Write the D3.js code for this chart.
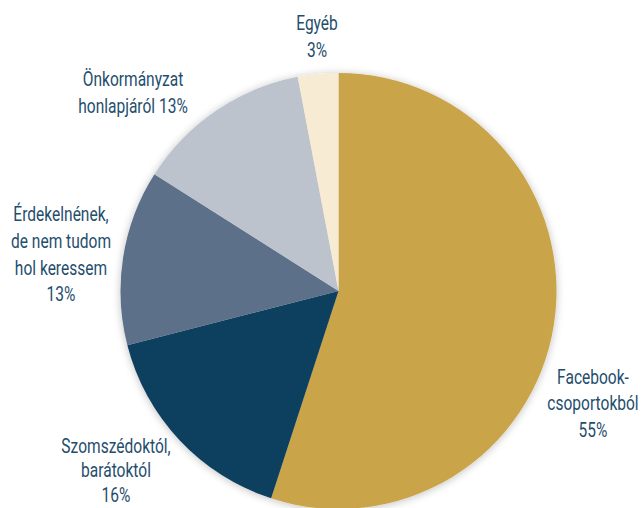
<!DOCTYPE html>
<html><head><meta charset="utf-8">
<script src="https://cdn.jsdelivr.net/npm/d3@7"></script>
<style>
html,body{margin:0;padding:0;background:#fff;}
text{font-family:"Roboto",sans-serif;fill:#1f4e6d;font-size:21px;font-weight:400;}
</style></head>
<body>
<svg id="c" width="643" height="508"></svg>
<script>
const categories = ["Facebook-csoportokból","Szomszédoktól, barátoktól","Érdekelnének, de nem tudom hol keressem","Önkormányzat honlapjáról","Egyéb"];
const values = [55,16,13,13,3];
const colors = ["#c9a449","#11405e","#5c7189","#bcc3cc","#f7ecd3"];
const labelLines = [
  ["Facebook-","csoportokból","55%"],
  ["Szomszédoktól,","barátoktól","16%"],
  ["Érdekelnének,","de nem tudom","hol keressem","13%"],
  ["Önkormányzat","honlapjáról 13%"],
  ["Egyéb","3%"]
];
const labelPos = [[593,384],[116,453],[61,221],[133,86],[317,30]];
const lineGap = [26.5,24.5,26.8,26.8,26.8];

const svg = d3.select("#c");
const cx = 338.5, cy = 291, r = 218;
const defs = svg.append("defs");
const f = defs.append("filter").attr("id","sh").attr("x","-20%").attr("y","-20%").attr("width","140%").attr("height","140%");
f.append("feGaussianBlur").attr("in","SourceAlpha").attr("stdDeviation",4);
f.append("feOffset").attr("dx",0).attr("dy",1).attr("result","b");
f.append("feComponentTransfer").append("feFuncA").attr("type","linear").attr("slope",0.25);
const m = f.append("feMerge"); m.append("feMergeNode"); m.append("feMergeNode").attr("in","SourceGraphic");

const pie = d3.pie().sort(null).value(d=>d);
const arc = d3.arc().innerRadius(0).outerRadius(r);
const g = svg.append("g").attr("transform",`translate(${cx},${cy})`).attr("filter","url(#sh)");
g.selectAll("path").data(pie(values)).join("path")
  .attr("d",arc).attr("fill",(d,i)=>colors[i]);

labelLines.forEach((lines,i)=>{
  const lg = svg.append("g").attr("transform",`translate(${labelPos[i][0]},${labelPos[i][1]}) scale(0.74,1)`);
  const t = lg.append("text").attr("text-anchor","middle").attr("x",0).attr("y",0);
  lines.forEach((l,j)=>t.append("tspan").attr("x",0).attr("dy", j===0?0:lineGap[i]).text(l));
});
</script>
</body></html>
